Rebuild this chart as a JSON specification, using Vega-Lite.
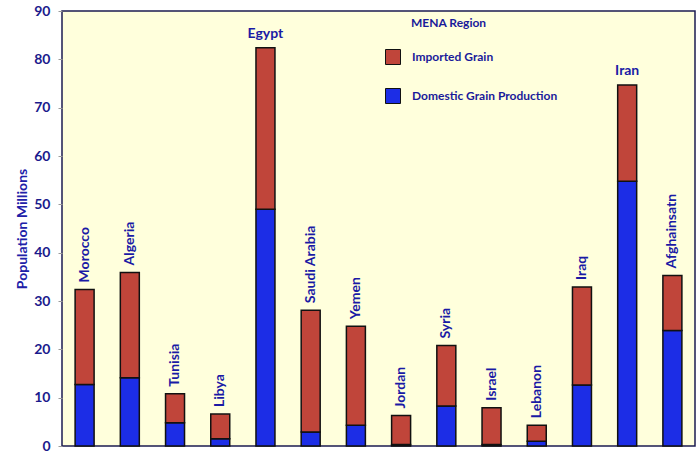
{
  "$schema": "https://vega.github.io/schema/vega-lite/v6.json",
  "width": 633,
  "height": 435,
  "autosize": {"type": "none"},
  "padding": {"left": 62, "top": 11, "right": 5, "bottom": 11},
  "background": "white",
  "config": {
    "font": "Lato",
    "view": {"fill": "#ffffdc", "stroke": "#1c1c50", "strokeWidth": 1.5}
  },
  "data": {
    "values": [
      {"country": "Morocco", "type": "Domestic Grain Production", "value": 12.7},
      {"country": "Morocco", "type": "Imported Grain", "value": 19.7},
      {"country": "Algeria", "type": "Domestic Grain Production", "value": 14.1},
      {"country": "Algeria", "type": "Imported Grain", "value": 21.8},
      {"country": "Tunisia", "type": "Domestic Grain Production", "value": 4.8},
      {"country": "Tunisia", "type": "Imported Grain", "value": 6.0},
      {"country": "Libya", "type": "Domestic Grain Production", "value": 1.5},
      {"country": "Libya", "type": "Imported Grain", "value": 5.1},
      {"country": "Egypt", "type": "Domestic Grain Production", "value": 49.0},
      {"country": "Egypt", "type": "Imported Grain", "value": 33.4},
      {"country": "Saudi Arabia", "type": "Domestic Grain Production", "value": 2.9},
      {"country": "Saudi Arabia", "type": "Imported Grain", "value": 25.2},
      {"country": "Yemen", "type": "Domestic Grain Production", "value": 4.3},
      {"country": "Yemen", "type": "Imported Grain", "value": 20.5},
      {"country": "Jordan", "type": "Domestic Grain Production", "value": 0.3},
      {"country": "Jordan", "type": "Imported Grain", "value": 6.0},
      {"country": "Syria", "type": "Domestic Grain Production", "value": 8.3},
      {"country": "Syria", "type": "Imported Grain", "value": 12.5},
      {"country": "Israel", "type": "Domestic Grain Production", "value": 0.3},
      {"country": "Israel", "type": "Imported Grain", "value": 7.6},
      {"country": "Lebanon", "type": "Domestic Grain Production", "value": 1.0},
      {"country": "Lebanon", "type": "Imported Grain", "value": 3.3},
      {"country": "Iraq", "type": "Domestic Grain Production", "value": 12.6},
      {"country": "Iraq", "type": "Imported Grain", "value": 20.3},
      {"country": "Iran", "type": "Domestic Grain Production", "value": 54.8},
      {"country": "Iran", "type": "Imported Grain", "value": 19.9},
      {"country": "Afghainsatn", "type": "Domestic Grain Production", "value": 23.9},
      {"country": "Afghainsatn", "type": "Imported Grain", "value": 11.4}
    ]
  },
  "encoding": {
    "x": {
      "field": "country",
      "type": "nominal",
      "sort": ["Morocco", "Algeria", "Tunisia", "Libya", "Egypt", "Saudi Arabia", "Yemen", "Jordan", "Syria", "Israel", "Lebanon", "Iraq", "Iran", "Afghainsatn"],
      "scale": {"paddingInner": 0.58, "paddingOuter": 0.29},
      "axis": null
    }
  },
  "layer": [
    {
      "mark": {"type": "bar", "stroke": "#111111", "strokeWidth": 1.5},
      "encoding": {
        "y": {
          "field": "value",
          "type": "quantitative",
          "stack": "zero",
          "scale": {"domain": [0, 90], "nice": false},
          "axis": {
            "title": "Population Millions",
            "titleColor": "#2020a8",
            "titleFontSize": 14,
            "titleFontWeight": "bold",
            "titlePadding": 4,
            "values": [0, 10, 20, 30, 40, 50, 60, 70, 80, 90],
            "labelColor": "#1a1a8c",
            "labelFontSize": 14,
            "labelFontWeight": "bold",
            "labelPadding": 8,
            "tickColor": "#9a9a9a",
            "tickSize": 4,
            "domain": false,
            "grid": false
          }
        },
        "order": {"field": "type", "sort": "ascending"},
        "color": {
          "field": "type",
          "type": "nominal",
          "scale": {
            "domain": ["Imported Grain", "Domestic Grain Production"],
            "range": ["#c0453a", "#1c2de6"]
          },
          "legend": {
            "orient": "none",
            "legendX": 323,
            "legendY": 7,
            "title": "MENA Region",
            "titleColor": "#1a1a9a",
            "titleFontSize": 12,
            "titleFontWeight": "bold",
            "titlePadding": 19,
            "labelColor": "#1a1a9a",
            "labelFontSize": 12,
            "labelFontWeight": "bold",
            "labelOffset": 11,
            "symbolType": "square",
            "symbolSize": 225,
            "symbolStrokeColor": "#111111",
            "symbolStrokeWidth": 1,
            "rowPadding": 19,
            "encode": {"title": {"update": {"dx": {"value": 26}}}}
          }
        }
      }
    },
    {
      "transform": [
        {"aggregate": [{"op": "sum", "field": "value", "as": "total"}], "groupby": ["country"]},
        {"filter": "datum.country !== 'Egypt' && datum.country !== 'Iran'"}
      ],
      "mark": {"type": "text", "angle": 270, "align": "left", "baseline": "middle", "dx": 7, "font": "Lato", "fontSize": 14, "fontWeight": "bold", "color": "#1a1aa5"},
      "encoding": {
        "y": {"field": "total", "type": "quantitative"},
        "text": {"field": "country"}
      }
    },
    {
      "transform": [
        {"aggregate": [{"op": "sum", "field": "value", "as": "total"}], "groupby": ["country"]},
        {"filter": "datum.country === 'Egypt' || datum.country === 'Iran'"}
      ],
      "mark": {"type": "text", "align": "center", "baseline": "bottom", "dy": -7, "font": "Lato", "fontSize": 14, "fontWeight": "bold", "color": "#1a1aa5"},
      "encoding": {
        "y": {"field": "total", "type": "quantitative"},
        "text": {"field": "country"}
      }
    }
  ]
}
